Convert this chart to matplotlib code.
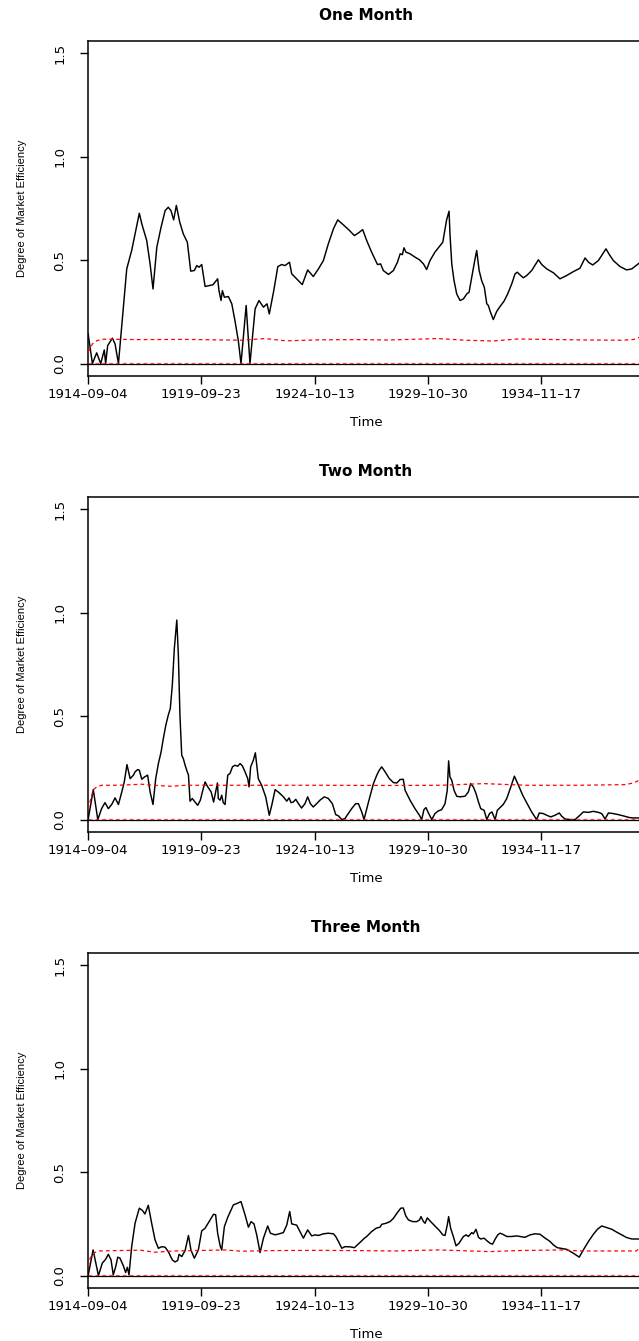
import numpy as np
import pandas as pd
import matplotlib
matplotlib.use('Agg')
from matplotlib import pyplot as plt

# 데이터 (시간은 소수 연도)
titles = ['One Month', 'Two Month', 'Three Month']
tick_dates = ['1914-09-04', '1919-09-23', '1924-10-13', '1929-10-30', '1934-11-17']
yticks = [0.0, 0.5, 1.0, 1.5]

# One Month
t1 = [1914.68, 1914.87, 1915.06, 1915.24, 1915.40, 1915.46, 1915.55, 1915.76, 1915.88, 1916.03,
      1916.21, 1916.40, 1916.62, 1916.77, 1916.96, 1917.07, 1917.29, 1917.44, 1917.57, 1917.74,
      1917.93, 1918.11, 1918.25, 1918.37, 1918.49, 1918.61, 1918.76, 1918.92, 1919.10, 1919.25,
      1919.41, 1919.52, 1919.62, 1919.74, 1919.89, 1920.07, 1920.24, 1920.36, 1920.45, 1920.51,
      1920.60, 1920.66, 1920.75, 1920.93, 1921.08, 1921.22, 1921.37, 1921.49, 1921.72, 1921.89,
      1922.12, 1922.29, 1922.49, 1922.65, 1922.75, 1922.95, 1923.13, 1923.30, 1923.45, 1923.65,
      1923.75, 1923.97, 1924.22, 1924.46, 1924.71, 1924.94, 1925.16, 1925.38, 1925.61, 1925.80,
      1926.05, 1926.32, 1926.54, 1926.75, 1926.91, 1927.09, 1927.31, 1927.57, 1927.71, 1927.83,
      1928.06, 1928.28, 1928.46, 1928.58, 1928.68, 1928.75, 1928.84, 1929.02, 1929.24, 1929.44,
      1929.62, 1929.76, 1929.91, 1930.13, 1930.36, 1930.48, 1930.58, 1930.65, 1930.76, 1930.80,
      1930.88, 1930.98, 1931.10, 1931.25, 1931.40, 1931.55, 1931.65, 1931.77, 1931.89, 1931.99,
      1932.10, 1932.21, 1932.33, 1932.44, 1932.51, 1932.59, 1932.73, 1932.88, 1933.03, 1933.21,
      1933.37, 1933.55, 1933.70, 1933.80, 1933.92, 1934.07, 1934.22, 1934.44, 1934.74, 1934.89,
      1935.11, 1935.41, 1935.70, 1936.00, 1936.30, 1936.59, 1936.82, 1936.97, 1937.16, 1937.41,
      1937.75, 1937.90, 1938.08, 1938.38, 1938.67, 1938.90, 1939.22]
v1 = [0.144, 0.000, 0.052, 0.000, 0.066, 0.000, 0.087, 0.123, 0.095, 0.000,
      0.224, 0.458, 0.547, 0.627, 0.727, 0.676, 0.595, 0.482, 0.361, 0.563,
      0.660, 0.740, 0.756, 0.740, 0.695, 0.765, 0.684, 0.627, 0.587, 0.447,
      0.450, 0.474, 0.466, 0.479, 0.373, 0.377, 0.381, 0.398, 0.410, 0.353,
      0.305, 0.353, 0.321, 0.324, 0.289, 0.208, 0.111, 0.000, 0.281, 0.000,
      0.265, 0.305, 0.273, 0.289, 0.240, 0.353, 0.469, 0.479, 0.474, 0.490,
      0.434, 0.410, 0.382, 0.453, 0.421, 0.458, 0.498, 0.579, 0.652, 0.695,
      0.671, 0.644, 0.619, 0.634, 0.648, 0.595, 0.539, 0.479, 0.482, 0.450,
      0.431, 0.450, 0.490, 0.531, 0.527, 0.560, 0.539, 0.531, 0.515, 0.502,
      0.482, 0.455, 0.498, 0.539, 0.571, 0.587, 0.652, 0.695, 0.737, 0.627,
      0.482, 0.402, 0.337, 0.305, 0.313, 0.337, 0.345, 0.418, 0.490, 0.547,
      0.450, 0.402, 0.369, 0.289, 0.281, 0.253, 0.213, 0.252, 0.276, 0.302,
      0.337, 0.385, 0.434, 0.442, 0.429, 0.415, 0.426, 0.450, 0.502, 0.479,
      0.458, 0.439, 0.410, 0.426, 0.445, 0.461, 0.511, 0.490, 0.477, 0.498,
      0.555, 0.527, 0.498, 0.469, 0.453, 0.458, 0.485]
u1_t = [1914.68, 1914.87, 1915.06, 1915.29, 1917.0, 1919.0, 1921.5, 1922.56, 1923.5, 1925.0,
        1926.9, 1928.0, 1930.28, 1931.5, 1932.7, 1933.8, 1935.0, 1937.0, 1938.5, 1939.0, 1939.22]
u1_v = [0.055, 0.095, 0.110, 0.118, 0.116, 0.117, 0.113, 0.121, 0.110, 0.115,
        0.116, 0.114, 0.121, 0.113, 0.109, 0.119, 0.117, 0.114, 0.113, 0.117, 0.127]

# Two Month
t2 = [1914.68, 1914.91, 1915.11, 1915.28, 1915.43, 1915.58, 1915.73, 1915.88, 1916.03, 1916.18,
      1916.29, 1916.41, 1916.55, 1916.70, 1916.77, 1916.89, 1916.96, 1917.07, 1917.19, 1917.33,
      1917.44, 1917.57, 1917.69, 1917.81, 1917.93, 1918.03, 1918.14, 1918.25, 1918.34, 1918.43,
      1918.52, 1918.63, 1918.70, 1918.77, 1918.85, 1918.92, 1919.00, 1919.07, 1919.15, 1919.22,
      1919.32, 1919.44, 1919.56, 1919.68, 1919.77, 1919.89, 1920.01, 1920.16, 1920.27, 1920.44,
      1920.48, 1920.56, 1920.63, 1920.70, 1920.78, 1920.90, 1921.00, 1921.11, 1921.22, 1921.34,
      1921.45, 1921.55, 1921.67, 1921.79, 1921.85, 1921.92, 1922.04, 1922.13, 1922.26, 1922.41,
      1922.59, 1922.75, 1922.86, 1923.01, 1923.18, 1923.38, 1923.53, 1923.63, 1923.72, 1923.82,
      1923.93, 1924.05, 1924.19, 1924.34, 1924.46, 1924.58, 1924.71, 1924.86, 1925.01, 1925.20,
      1925.38, 1925.56, 1925.71, 1925.83, 1925.98, 1926.12, 1926.27, 1926.42, 1926.60, 1926.72,
      1926.87, 1926.97, 1927.17, 1927.39, 1927.54, 1927.65, 1927.76, 1927.91, 1928.10, 1928.28,
      1928.43, 1928.58, 1928.72, 1928.80, 1929.02, 1929.24, 1929.44, 1929.54, 1929.64, 1929.73,
      1929.84, 1929.99, 1930.13, 1930.28, 1930.43, 1930.58, 1930.68, 1930.74, 1930.80, 1930.88,
      1930.98, 1931.10, 1931.25, 1931.47, 1931.62, 1931.72, 1931.84, 1931.96, 1932.07, 1932.17,
      1932.32, 1932.44, 1932.56, 1932.67, 1932.81, 1932.91, 1933.03, 1933.18, 1933.33, 1933.51,
      1933.67, 1933.85, 1934.04, 1934.22, 1934.44, 1934.66, 1934.78, 1934.96, 1935.11, 1935.29,
      1935.48, 1935.67, 1935.78, 1935.93, 1936.15, 1936.37, 1936.59, 1936.74, 1936.97, 1937.19,
      1937.41, 1937.56, 1937.71, 1937.86, 1938.08, 1938.30, 1938.52, 1938.79, 1938.97, 1939.22]
v2 = [0.000, 0.145, 0.000, 0.053, 0.082, 0.053, 0.073, 0.105, 0.073, 0.134,
      0.182, 0.266, 0.198, 0.215, 0.231, 0.242, 0.239, 0.195, 0.206, 0.215,
      0.134, 0.073, 0.198, 0.271, 0.327, 0.392, 0.456, 0.505, 0.537, 0.650,
      0.827, 0.965, 0.795, 0.505, 0.311, 0.295, 0.263, 0.239, 0.215, 0.089,
      0.102, 0.085, 0.069, 0.094, 0.134, 0.182, 0.158, 0.134, 0.085, 0.177,
      0.102, 0.094, 0.118, 0.082, 0.073, 0.215, 0.223, 0.255, 0.263, 0.258,
      0.271, 0.260, 0.231, 0.198, 0.158, 0.255, 0.287, 0.323, 0.198, 0.166,
      0.110, 0.021, 0.069, 0.145, 0.131, 0.110, 0.089, 0.105, 0.082, 0.085,
      0.098, 0.077, 0.056, 0.077, 0.110, 0.077, 0.061, 0.077, 0.094, 0.110,
      0.102, 0.077, 0.024, 0.018, 0.000, 0.005, 0.029, 0.053, 0.077, 0.077,
      0.037, 0.000, 0.085, 0.174, 0.215, 0.239, 0.255, 0.231, 0.198, 0.179,
      0.177, 0.194, 0.195, 0.142, 0.094, 0.053, 0.021, 0.000, 0.048, 0.058,
      0.032, 0.000, 0.029, 0.042, 0.048, 0.077, 0.142, 0.284, 0.206, 0.190,
      0.142, 0.113, 0.110, 0.113, 0.134, 0.174, 0.158, 0.126, 0.085, 0.053,
      0.045, 0.000, 0.029, 0.037, 0.000, 0.045, 0.058, 0.074, 0.102, 0.158,
      0.210, 0.166, 0.118, 0.081, 0.037, 0.000, 0.032, 0.029, 0.021, 0.013,
      0.021, 0.032, 0.016, 0.003, 0.000, 0.000, 0.021, 0.037, 0.035, 0.040,
      0.035, 0.029, 0.003, 0.032, 0.029, 0.024, 0.018, 0.010, 0.008, 0.008]
u2_t = [1914.68, 1914.72, 1914.91, 1915.06, 1915.28, 1916.0, 1917.07, 1917.6, 1918.40, 1919.0,
        1922.0, 1925.0, 1928.0, 1930.4, 1932.3, 1934.2, 1936.5, 1938.6, 1938.97, 1939.22]
u2_v = [0.050, 0.069, 0.145, 0.158, 0.166, 0.166, 0.171, 0.166, 0.161, 0.166,
        0.166, 0.166, 0.165, 0.166, 0.174, 0.166, 0.166, 0.169, 0.177, 0.190]

# Three Month
t3 = [1914.68, 1914.90, 1915.14, 1915.31, 1915.46, 1915.58, 1915.70, 1915.80, 1915.91, 1916.00,
      1916.10, 1916.25, 1916.35, 1916.43, 1916.50, 1916.62, 1916.77, 1916.96, 1917.10, 1917.21,
      1917.36, 1917.51, 1917.66, 1917.81, 1917.96, 1918.11, 1918.25, 1918.43, 1918.55, 1918.67,
      1918.73, 1918.85, 1919.00, 1919.15, 1919.26, 1919.41, 1919.59, 1919.74, 1919.89, 1920.04,
      1920.19, 1920.27, 1920.36, 1920.45, 1920.56, 1920.63, 1920.75, 1920.90, 1921.05, 1921.15,
      1921.34, 1921.49, 1921.67, 1921.82, 1921.94, 1922.07, 1922.19, 1922.34, 1922.49, 1922.68,
      1922.80, 1923.01, 1923.19, 1923.38, 1923.53, 1923.66, 1923.75, 1923.97, 1924.12, 1924.27,
      1924.46, 1924.64, 1924.79, 1924.94, 1925.16, 1925.38, 1925.61, 1925.71, 1925.83, 1925.98,
      1926.12, 1926.35, 1926.54, 1926.75, 1926.99, 1927.09, 1927.31, 1927.51, 1927.68, 1927.76,
      1927.95, 1928.13, 1928.28, 1928.46, 1928.61, 1928.72, 1928.83, 1928.95, 1929.14, 1929.32,
      1929.44, 1929.51, 1929.62, 1929.69, 1929.79, 1929.94, 1930.13, 1930.33, 1930.48, 1930.58,
      1930.68, 1930.74, 1930.83, 1930.95, 1931.07, 1931.20, 1931.40, 1931.52, 1931.62, 1931.77,
      1931.84, 1931.96, 1932.07, 1932.17, 1932.32, 1932.44, 1932.59, 1932.70, 1932.81, 1932.93,
      1933.03, 1933.15, 1933.33, 1933.55, 1933.77, 1933.92, 1934.14, 1934.37, 1934.59, 1934.81,
      1935.04, 1935.26, 1935.41, 1935.58, 1935.78, 1936.00, 1936.30, 1936.56, 1936.74, 1936.97,
      1937.19, 1937.37, 1937.56, 1937.78, 1938.01, 1938.23, 1938.45, 1938.67, 1938.90, 1939.22]
v3 = [0.000, 0.124, 0.000, 0.060, 0.079, 0.103, 0.076, 0.003, 0.044, 0.089,
      0.084, 0.047, 0.015, 0.040, 0.003, 0.140, 0.253, 0.326, 0.315, 0.298,
      0.340, 0.253, 0.173, 0.132, 0.140, 0.137, 0.116, 0.076, 0.066, 0.073,
      0.103, 0.092, 0.121, 0.194, 0.124, 0.084, 0.124, 0.216, 0.229, 0.256,
      0.282, 0.297, 0.294, 0.205, 0.144, 0.124, 0.237, 0.282, 0.318, 0.342,
      0.350, 0.358, 0.294, 0.234, 0.261, 0.250, 0.197, 0.111, 0.181, 0.240,
      0.205, 0.197, 0.202, 0.208, 0.245, 0.310, 0.250, 0.244, 0.213, 0.181,
      0.221, 0.192, 0.197, 0.194, 0.202, 0.205, 0.202, 0.189, 0.165, 0.132,
      0.140, 0.139, 0.135, 0.156, 0.181, 0.189, 0.213, 0.229, 0.234, 0.248,
      0.253, 0.261, 0.277, 0.305, 0.326, 0.327, 0.289, 0.269, 0.261, 0.261,
      0.269, 0.285, 0.261, 0.253, 0.279, 0.261, 0.240, 0.218, 0.197, 0.194,
      0.245, 0.285, 0.229, 0.189, 0.144, 0.156, 0.189, 0.197, 0.189, 0.208,
      0.202, 0.224, 0.185, 0.177, 0.181, 0.169, 0.156, 0.152, 0.176, 0.197,
      0.205, 0.200, 0.189, 0.189, 0.192, 0.189, 0.185, 0.197, 0.202, 0.200,
      0.181, 0.165, 0.148, 0.135, 0.131, 0.127, 0.108, 0.089, 0.124, 0.165,
      0.200, 0.224, 0.240, 0.232, 0.224, 0.210, 0.197, 0.184, 0.177, 0.177]
u3_t = [1914.68, 1914.77, 1914.91, 1915.14, 1916.0, 1917.0, 1917.66, 1918.5, 1920.78, 1921.5,
        1923.0, 1925.0, 1926.5, 1928.3, 1930.3, 1932.6, 1933.8, 1935.8, 1936.6, 1938.0,
        1939.1, 1939.22]
u3_v = [0.044, 0.084, 0.108, 0.119, 0.121, 0.123, 0.113, 0.119, 0.124, 0.118,
        0.121, 0.122, 0.121, 0.119, 0.124, 0.116, 0.121, 0.124, 0.119, 0.119,
        0.119, 0.131]

# 날짜 -> 소수 연도
d = pd.to_datetime(tick_dates)
tick_pos = d.year + (d.dayofyear - 1) / np.where(d.is_leap_year, 366, 365)
x0 = tick_pos[0]
x1 = x0 + (tick_pos[1] - x0) / 113.4 * 556

# 시각화
fig = plt.figure(figsize=(6.39, 13.41), dpi=100)
W, H = 639, 1341
tops = [41, 497, 953]

panels = [(t1, v1, u1_t, u1_v), (t2, v2, u2_t, u2_v), (t3, v3, u3_t, u3_v)]

for i, (t, v, ut, uv) in enumerate(panels):
    top = tops[i]
    ax = fig.add_axes([88 / W, 1 - (top + 335) / H, 556 / W, 335 / H])

    ax.axhline(0, color='black', lw=0.9, zorder=2)
    ax.plot(t, v, color='black', lw=1.05, zorder=3)
    ax.plot(ut, uv, color='red', lw=0.9, dashes=(3, 2.5), zorder=4)
    ax.axhline(0.002, color='red', lw=0.9, dashes=(3, 2.5), alpha=0.7, zorder=4)

    ax.set_xlim(x0, x1)
    ax.set_ylim(-0.06, 1.56)

    ax.set_xticks(tick_pos)
    ax.set_xticklabels([s.replace('-', '\u2013') for s in tick_dates],
                       fontsize=9.5, family='DejaVu Sans')
    ax.set_yticks(yticks)
    ax.set_yticklabels(['%.1f' % y for y in yticks], rotation=90, va='center',
                       fontsize=9.5, family='DejaVu Sans')
    ax.tick_params(axis='both', direction='out', length=5.5, width=1.0)
    ax.tick_params(axis='x', pad=3)
    ax.tick_params(axis='y', pad=10)

    for s in ax.spines.values():
        s.set_linewidth(1.1)

    ax.set_title(titles[i], fontsize=11, fontweight='bold', family='DejaVu Sans', pad=15)
    ax.set_xlabel('Time', fontsize=9.5, family='DejaVu Sans')
    ax.xaxis.set_label_coords(0.5, -0.118)
    ax.set_ylabel('Degree of Market Efficiency', fontsize=8, family='Liberation Sans')
    ax.yaxis.set_label_coords(-0.11, 0.5)

fig.savefig('out.png', dpi=100)
